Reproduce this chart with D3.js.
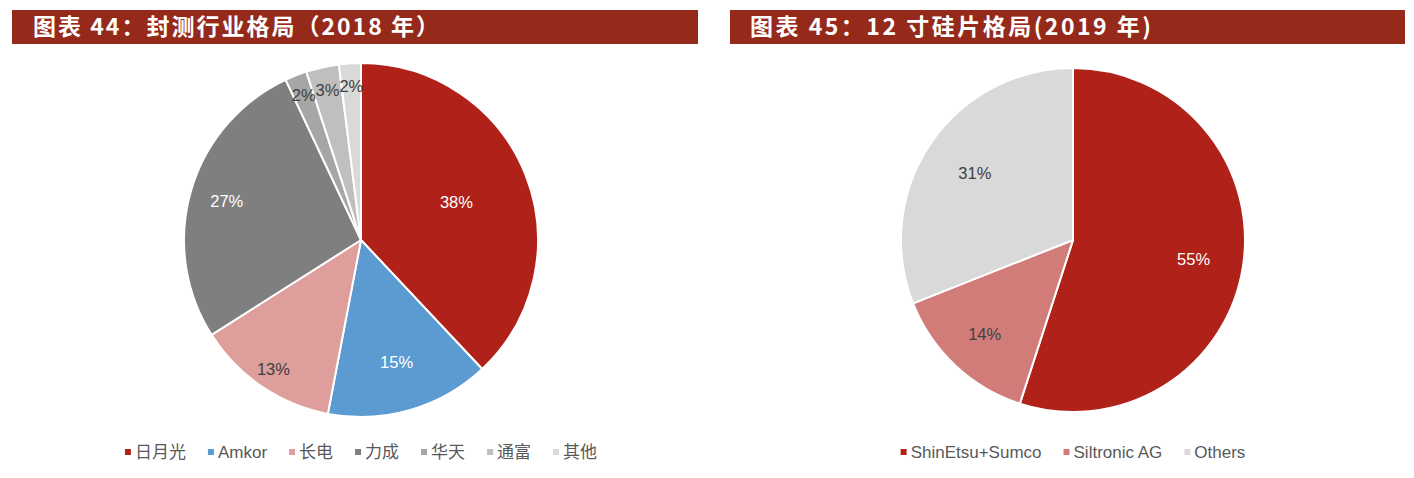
<!DOCTYPE html>
<html><head><meta charset="utf-8">
<script src="https://cdn.jsdelivr.net/npm/d3@7"></script>
<style>body{margin:0;background:#fff}svg{display:block}</style>
</head><body>
<svg id="c" width="1414" height="478"></svg>
<script>
// ---- data ----
const titles = ["图表 44：封测行业格局（2018 年）", "图表 45：12 寸硅片格局(2019 年)"];
const cats1 = ["日月光", "Amkor", "长电", "力成", "华天", "通富", "其他"];
const vals1 = [38, 15, 13, 27, 2, 3, 2];
const cats2 = ["ShinEtsu+Sumco", "Siltronic AG", "Others"];
const vals2 = [55, 14, 31];

// ---- style / layout ----
const colors1 = ["#B02119", "#5B9BD2", "#DD9E9C", "#7F7F7F", "#A6A6A6", "#BFBFBF", "#D9D9D9"];
const colors2 = ["#B02119", "#D27C7A", "#D9D9D9"];
const labelColors1 = ["#fff", "#fff", "#404040", "#fff", "#404040", "#404040", "#404040"];
const labelColors2 = ["#fff", "#404040", "#404040"];
const labelR1 = [0.58, 0.72, 0.88, 0.79, 0.88, 0.87, 0.87];
const labelR2 = [0.71, 0.75, 0.69];

const svg = d3.select("#c");
const latin = "'Liberation Sans', Arial, Helvetica, sans-serif";
const cjk = "'Liberation Sans', 'Noto Sans CJK SC', sans-serif";

// title bars
const bars = [{x0: 12, x1: 698, tx: 33, w: 406}, {x0: 730, x1: 1405, tx: 750, w: 401}];
bars.forEach((b, i) => {
  svg.append("rect").attr("x", b.x0).attr("y", 10).attr("width", b.x1 - b.x0).attr("height", 34).attr("fill", "#962A1A");
  svg.append("text").attr("x", b.tx).attr("y", 35).attr("fill", "#fff")
    .attr("textLength", b.w).attr("lengthAdjust", "spacing")
    .style("font-family", "'Noto Sans CJK SC', sans-serif").style("font-weight", "700").style("font-size", "23px")
    .text(titles[i]);
});

function drawPie(cx, cy, r, cats, vals, colors, lcolors, lr) {
  const g = svg.append("g").attr("transform", `translate(${cx},${cy})`);
  const pie = d3.pie().sort(null).value(d => d);
  const arcs = pie(vals);
  const arc = d3.arc().innerRadius(0).outerRadius(r);
  g.selectAll("path").data(arcs).join("path")
    .attr("d", arc).attr("fill", (d, i) => colors[i])
    .attr("stroke", "#fff").attr("stroke-width", 2).attr("stroke-linejoin", "round");
  const total = d3.sum(vals);
  g.selectAll("text").data(arcs).join("text")
    .attr("transform", (d, i) => {
      const a = (d.startAngle + d.endAngle) / 2;
      const rr = r * lr[i];
      return `translate(${Math.sin(a) * rr},${-Math.cos(a) * rr})`;
    })
    .attr("text-anchor", "middle").attr("dy", "0.36em")
    .attr("fill", (d, i) => lcolors[i])
    .style("font-family", latin).style("font-size", "16.5px")
    .text(d => Math.round(d.data / total * 100) + "%");

  // legend
  const lg = svg.append("g");
  const items = lg.selectAll("g").data(cats).join("g");
  items.append("rect").attr("width", 6).attr("height", 6).attr("y", -3).attr("fill", (d, i) => colors[i]);
  items.append("text").attr("x", 10).attr("dy", "0.35em").attr("fill", "#595959")
    .style("font-family", cjk).style("font-size", "17px").text(d => d);
  const gap = 22;
  let x = 0;
  items.each(function () {
    const w = d3.select(this).select("text").node().getComputedTextLength();
    d3.select(this).attr("transform", `translate(${x},0)`);
    x += 10 + w + gap;
  });
  const totalW = x - gap;
  lg.attr("transform", `translate(${cx - totalW / 2},${452})`);
}

drawPie(361, 240, 177, cats1, vals1, colors1, labelColors1, labelR1);
drawPie(1073, 240, 172, cats2, vals2, colors2, labelColors2, labelR2);
</script>
</body></html>
